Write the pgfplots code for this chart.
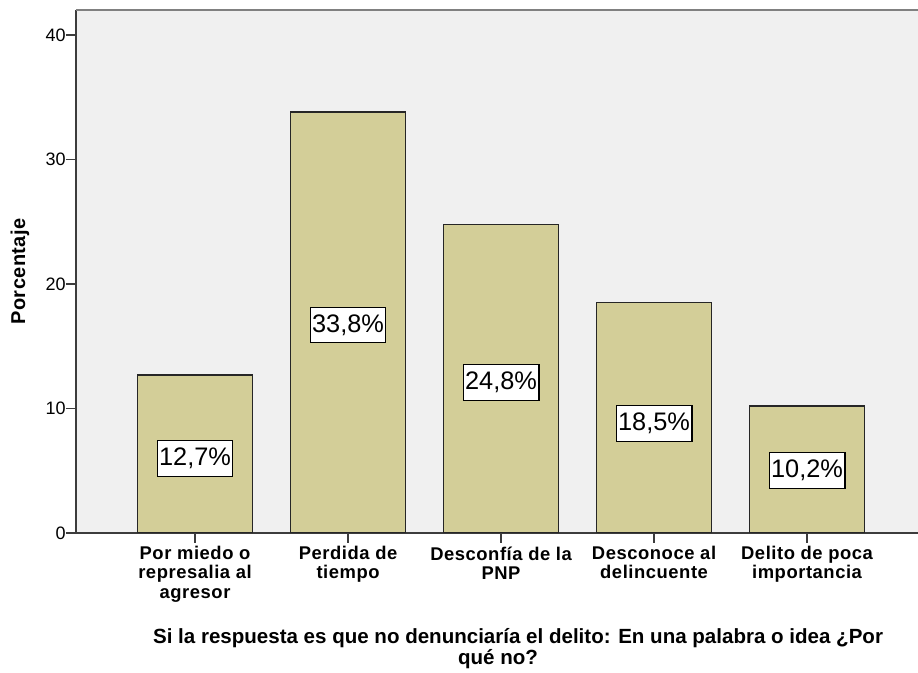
\documentclass[border=0pt]{standalone}
\usepackage{fontspec}
\setmainfont{Liberation Sans}
\newfontfamily\spfont[LetterSpace=3]{Liberation Sans}
\newfontfamily\ylfont[LetterSpace=2]{Liberation Sans}
\usepackage{pgfplots}
\pgfplotsset{compat=1.18}
\definecolor{bgc}{HTML}{F0F0F0}
\definecolor{barc}{HTML}{D3CE98}
\definecolor{axc}{HTML}{3C3C3C}
\begin{document}
\begin{tikzpicture}
\useasboundingbox (0,0) rectangle (688.5pt,504.75pt);
\begin{axis}[
  at={(57pt,105pt)}, anchor=south west,
  scale only axis, width=631.5pt, height=392.25pt,
  xmin=-0.778, xmax=4.725, ymin=0, ymax=42.0,
  axis background/.style={fill=bgc},
  axis x line=bottom, axis y line=left,
  axis line style={-, draw=axc, line width=1.4pt},
  tick align=outside,
  major tick length=7.5pt,
  tick style={draw=axc, line width=1.2pt},
  ytick={0,10,20,30,40},
  xtick={0,1,2,3,4},
  xticklabels={{Por miedo o\\represalia al\\agresor},{Perdida de\\tiempo},{Desconfía de la\\PNP},{Desconoce al\\delincuente},{Delito de poca\\importancia}},
  xticklabel style={align=center, font=\spfont\bfseries\fontsize{13.8}{14.3}\selectfont, inner sep=1pt, yshift=-1.5pt},
  yticklabel style={font=\fontsize{13.5}{15}\selectfont, inner sep=1pt, xshift=1pt},
  /pgf/number format/assume math mode=true,
  xlabel={Si la respuesta es que no denunciaría el delito: En una palabra o idea ¿Por\\\hspace*{-30pt}qué no?},
  xlabel style={at={(axis description cs:0.525,0)}, anchor=north, yshift=-71.5pt, align=center, font=\bfseries\fontsize{15.4}{15.4}\selectfont, inner sep=0pt},
  ylabel={Porcentaje},
  ylabel style={at={(axis description cs:-0.0665,0.5)}, anchor=center, font=\ylfont\bfseries\fontsize{15}{16}\selectfont},
]
\draw[draw=gray, line width=1.4pt] (rel axis cs:0,1) -- (rel axis cs:1,1);
\addplot[ybar, bar width=0.752, fill=barc, draw=black!85, line width=1pt]
  coordinates {(0,12.7) (1,33.8) (2,24.8) (3,18.5) (4,10.2)};
\addplot[only marks, mark=none, nodes near coords, point meta=explicit symbolic,
  nodes near coords style={anchor=center, fill=white, draw=black, line width=0.8pt,
    font=\fontsize{19}{21}\selectfont, inner xsep=1.5pt, inner ysep=5.5pt}]
  coordinates {(0,6.0) [12,7\%] (1,16.7) [33,8\%] (2,12.1) [24,8\%] (3,8.8) [18,5\%] (4,5.0) [10,2\%]};
\end{axis}
\end{tikzpicture}
\end{document}
